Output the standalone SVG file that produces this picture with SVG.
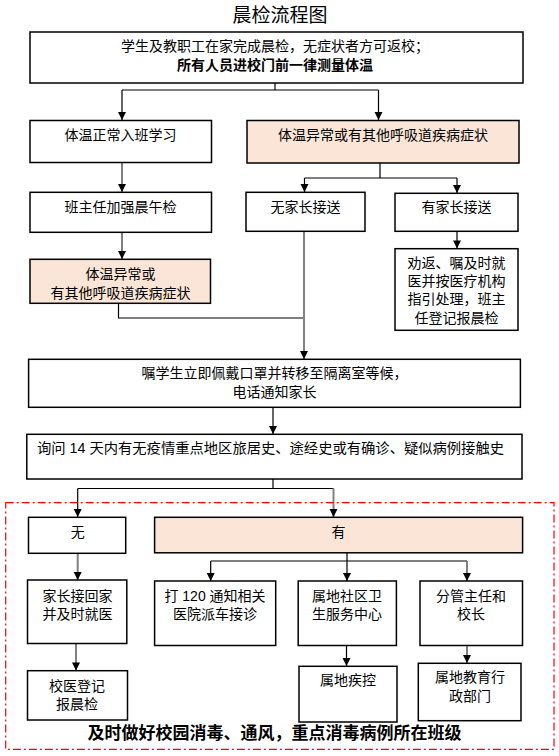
<svg xmlns="http://www.w3.org/2000/svg" width="559" height="756" viewBox="0 0 559 756">
<defs>
<style>
text{font-family:"Liberation Sans","Noto Sans CJK SC",sans-serif;font-size:14px;fill:#000;text-anchor:middle}
.b{font-weight:bold}
.t{font-size:19px}
.box{fill:#fff;stroke:#000;stroke-width:1.5}
.pk{fill:#FBE5D6;stroke:#000;stroke-width:1.5}
.ln{fill:none;stroke:#000;stroke-width:1.2}
.gl{fill:none;stroke:#808080;stroke-width:2}
</style>
</defs>
<rect width="559" height="756" fill="#fff"/>
<text class="t" x="280" y="22">晨检流程图</text>
<g id="connectors">
<path class="ln" d="M275,83 V90 M122,90 H378.5"/>
<line class="ln" x1="122" y1="90" x2="122" y2="120"/>
<line class="ln" x1="378.5" y1="90" x2="378.5" y2="120"/>
<path class="ln" d="M380,163 V178 M304.5,178 H457"/>
<line class="ln" x1="304.5" y1="178" x2="304.5" y2="192"/>
<line class="ln" x1="457" y1="178" x2="457" y2="193"/>
<line class="gl" x1="122" y1="163" x2="122" y2="192"/>
<line class="gl" x1="122" y1="232" x2="122" y2="259"/>
<path class="ln" d="M118.5,303 V318 H304"/>
<line class="gl" x1="304" y1="231" x2="304" y2="359"/>
<line class="ln" x1="457" y1="231" x2="457" y2="248.5"/>
<line class="ln" x1="273" y1="407" x2="273" y2="434"/>
<path class="ln" d="M273,479 V488.5 M77.7,488.5 H333.5"/>
<line class="ln" x1="77.7" y1="488.5" x2="77.7" y2="517"/>
<line class="gl" x1="333.5" y1="488.5" x2="333.5" y2="517"/>
<line class="gl" x1="77.7" y1="553" x2="77.7" y2="580"/>
<path class="ln" d="M347,553 V561 M210.7,561 H467"/>
<line class="ln" x1="210.7" y1="561" x2="210.7" y2="581"/>
<line class="ln" x1="347" y1="561" x2="347" y2="581"/>
<line class="gl" x1="467" y1="561" x2="467" y2="581"/>
<line class="gl" x1="76" y1="643.5" x2="76" y2="670.5"/>
<line class="ln" x1="346.5" y1="645.5" x2="346.5" y2="666"/>
<line class="gl" x1="467" y1="645.5" x2="467" y2="663"/>
<g fill="#000">
<path d="M118,112 H126 L122,120 Z"/>
<path d="M374.5,112 H382.5 L378.5,120 Z"/>
<path d="M118,184 H126 L122,192 Z"/>
<path d="M300.5,184 H308.5 L304.5,192 Z"/>
<path d="M453,185 H461 L457,193 Z"/>
<path d="M118,251 H126 L122,259 Z"/>
<path d="M300,351 H308 L304,359 Z"/>
<path d="M453,240.5 H461 L457,248.5 Z"/>
<path d="M269,426 H277 L273,434 Z"/>
<path d="M73.7,509 H81.7 L77.7,517 Z"/>
<path d="M329.5,509 H337.5 L333.5,517 Z"/>
<path d="M73.7,572 H81.7 L77.7,580 Z"/>
<path d="M206.7,573 H214.7 L210.7,581 Z"/>
<path d="M343,573 H351 L347,581 Z"/>
<path d="M463,573 H471 L467,581 Z"/>
<path d="M72,662.5 H80 L76,670.5 Z"/>
<path d="M342.5,658 H350.5 L346.5,666 Z"/>
<path d="M463,655 H471 L467,663 Z"/>
</g>
</g>
<g id="n-top"><rect class="box" x="30" y="32" width="493" height="51"/>
<text x="275" y="51">学生及教职工在家完成晨检，无症状者方可返校；</text>
<text class="b" x="275" y="70">所有人员进校门前一律测量体温</text></g>
<g id="n-normal"><rect class="box" x="30" y="120.5" width="181.5" height="42"/>
<text x="120.5" y="140">体温正常入班学习</text></g>
<g id="n-abnormal"><rect class="pk" x="247" y="120.5" width="272" height="42.5"/>
<text x="383" y="140">体温异常或有其他呼吸道疾病症状</text></g>
<g id="n-teacher"><rect class="box" x="30" y="192.3" width="181.5" height="40"/>
<text x="120.5" y="212">班主任加强晨午检</text></g>
<g id="n-noparent"><rect class="box" x="246" y="192.3" width="119" height="39"/>
<text x="305.5" y="212">无家长接送</text></g>
<g id="n-parent"><rect class="box" x="395" y="193.3" width="123" height="38"/>
<text x="456.5" y="212">有家长接送</text></g>
<g id="n-abnormal2"><rect class="pk" x="30" y="259.3" width="180.5" height="44"/>
<text x="120.5" y="279">体温异常或</text>
<text x="120.5" y="297.7">有其他呼吸道疾病症状</text></g>
<g id="n-return"><rect class="box" x="395" y="248.7" width="123" height="81.6"/>
<text x="456.5" y="267.7">劝返、嘱及时就</text>
<text x="456.5" y="286">医并按医疗机构</text>
<text x="456.5" y="304.3">指引处理，班主</text>
<text x="456.5" y="322.7">任登记报晨检</text></g>
<g id="n-isolate"><rect class="box" x="28.6" y="359.3" width="491.8" height="48"/>
<text x="274.5" y="378.3">嘱学生立即佩戴口罩并转移至隔离室等候，</text>
<text x="274.5" y="397.3">电话通知家长</text></g>
<g id="n-ask"><rect class="box" x="26.8" y="434.3" width="495.2" height="44.7"/>
<text x="37" y="453.3" style="text-anchor:start" textLength="467" lengthAdjust="spacingAndGlyphs">询问 14 天内有无疫情重点地区旅居史、途经史或有确诊、疑似病例接触史</text></g>
<rect x="5.7" y="502.7" width="548.3" height="246.6" fill="none" stroke="#f00" stroke-width="1.2" stroke-dasharray="8,3,2,3"/>
<g id="n-no"><rect class="box" x="28.5" y="517.3" width="97.2" height="36"/>
<text x="77.7" y="537.3">无</text></g>
<g id="n-yes"><rect class="pk" x="154.6" y="517.3" width="368" height="35.5"/>
<text x="338.6" y="537.3">有</text></g>
<g id="n-home"><rect class="box" x="27.5" y="580" width="99.3" height="63.5"/>
<text x="77.5" y="601">家长接回家</text>
<text x="77.5" y="619">并及时就医</text></g>
<g id="n-120"><rect class="box" x="154.6" y="581" width="121.1" height="64.5"/>
<text x="215" y="601">打 120 通知相关</text>
<text x="215" y="619">医院派车接诊</text></g>
<g id="n-community"><rect class="box" x="298.2" y="581" width="98.2" height="64.5"/>
<text x="347" y="601">属地社区卫</text>
<text x="347" y="619">生服务中心</text></g>
<g id="n-principal"><rect class="box" x="420" y="581" width="102.5" height="64.5"/>
<text x="471" y="601">分管主任和</text>
<text x="471" y="619">校长</text></g>
<g id="n-register"><rect class="box" x="27.5" y="670.7" width="100" height="49.3"/>
<text x="77" y="690.7">校医登记</text>
<text x="77" y="709">报晨检</text></g>
<g id="n-cdc"><rect class="box" x="299" y="666.3" width="98" height="55.7"/>
<text x="348" y="685">属地疾控</text></g>
<g id="n-edu"><rect class="box" x="418.3" y="663.3" width="102.7" height="57.4"/>
<text x="470" y="682.3">属地教育行</text>
<text x="470" y="701">政部门</text></g>
<text class="b" x="274.5" y="739" style="font-size:17px">及时做好校园消毒、通风，重点消毒病例所在班级</text>
</svg>
